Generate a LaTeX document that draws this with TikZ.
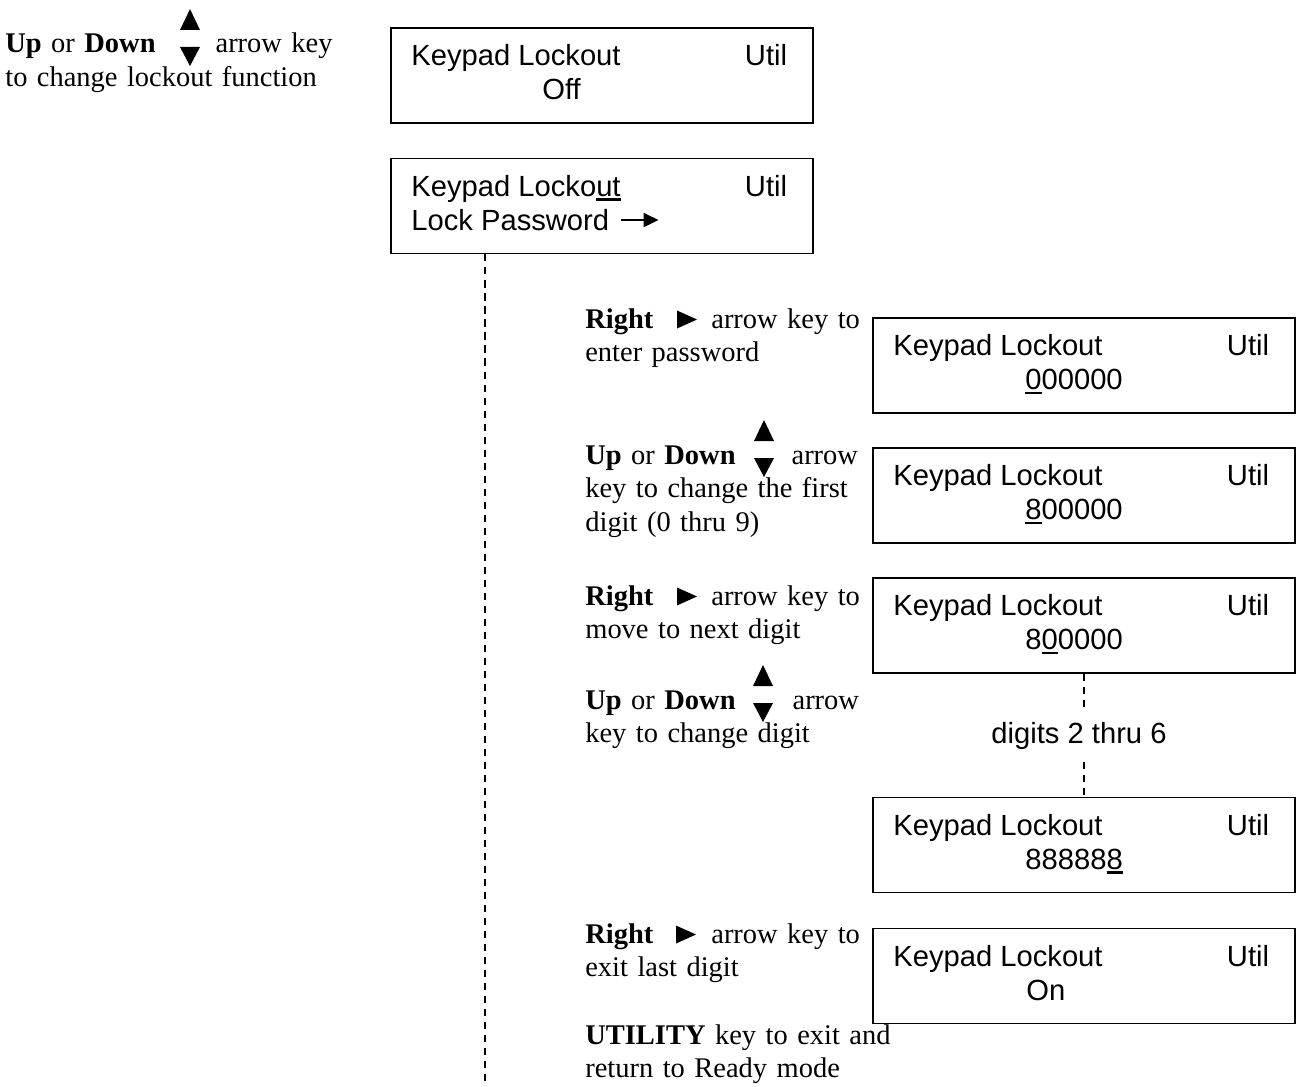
\documentclass[tikz,border=0pt]{standalone}
\usepackage{fontspec}
\setmainfont{Liberation Serif}
\newfontfamily\lcdfont{Liberation Sans}
\usetikzlibrary{arrows.meta,positioning,calc}
\tikzstyle{lcd}=[rectangle, draw=black, line width=1.1pt, minimum width=8.44cm, minimum height=1.9cm, inner sep=0pt]
\tikzstyle{lcdtxt}=[inner sep=0pt, font=\lcdfont\fontsize{16.6}{19.1}\selectfont]
\tikzstyle{note}=[inner sep=0pt, anchor=base west, text width=7cm, align=left, font=\fontsize{16.2}{19.1}\selectfont]
\tikzstyle{flow}=[dash pattern=on 4pt off 3.4pt, line width=0.8pt]
\tikzstyle{pointer}=[line width=1.2pt, -{Triangle[length=0.3cm,width=0.28cm]}]
\newsavebox\cursorbox
\newcommand{\cursor}[1]{\sbox\cursorbox{#1}\rlap{\rule[-2.8pt]{\wd\cursorbox}{1.5pt}}\usebox\cursorbox}
\newcommand{\keyupdown}[2]{%
  \fill (#1-0.2,#2+0.46) -- (#1+0.2,#2+0.46) -- (#1,#2+0.88) -- cycle;
  \fill (#1-0.2,#2+0.12) -- (#1+0.2,#2+0.12) -- (#1,#2-0.26) -- cycle;}
\newcommand{\keyright}[2]{%
  \fill (#1,#2-0.01) -- (#1,#2+0.35) -- (#1+0.40,#2+0.17) -- cycle;}

\begin{document}
\begin{tikzpicture}
\useasboundingbox (0,0) rectangle (25.98,-21.74);

% display screens
\foreach \n/\x/\y/\a/\s/\o in {
  off/12.04/-1.51/{Keypad Lockout}/{Off}/3.04,
  lockpw/12.04/-4.12/{Keypad Locko\cursor{ut}}/{Lock Password}/0.42,
  pw0/21.68/-7.31/{Keypad Lockout}/{\cursor{0}00000}/3.06,
  pw1/21.68/-9.91/{Keypad Lockout}/{\cursor{8}00000}/3.06,
  pw2/21.68/-12.51/{Keypad Lockout}/{8\cursor{0}0000}/3.06,
  pw6/21.68/-16.90/{Keypad Lockout}/{88888\cursor{8}}/3.06,
  on/21.68/-19.52/{Keypad Lockout}/{On}/3.08} {
  \node[lcd] (\n) at (\x,\y) {};
  \node[lcdtxt,anchor=base west] (\n-a) at ($(\n.north west)+(0.42,-0.77)$) {\a};
  \node[lcdtxt,anchor=base east] (\n-b) at ($(\n.north east)+(-0.53,-0.77)$) {Util};
  \node[lcdtxt,anchor=base west] (\n-c) at ($(\n.north west)+(\o,-1.45)$) {\s};
}
\coordinate (pwarrow) at ($(lockpw-c.base east)+(0.22,0.2)$);
\coordinate (pwtip) at ($(pwarrow)+(0.76,0)$);
\draw[pointer] (pwarrow) -- (pwtip);

% key instructions
\node[note] (udfun) at (0.10,-1.06) {\textbf{Up} or \textbf{Down}\hspace{1.2cm}arrow key\\to change lockout function};
\node[note] (rtenter) at (11.70,-6.56) {\textbf{Right}\hspace{1.16cm}arrow key to\\enter password};
\node[note] (udfirst) at (11.70,-9.28) {\textbf{Up} or \textbf{Down}\hspace{1.12cm}arrow\\key to change the first\\digit (0 thru 9)};
\node[note] (rtnext) at (11.70,-12.10) {\textbf{Right}\hspace{1.16cm}arrow key to\\move to next digit};
\node[note] (uddigit) at (11.70,-14.18) {\textbf{Up} or \textbf{Down}\hspace{1.14cm}arrow\\key to change digit};
\node[note] (rtexit) at (11.70,-18.86) {\textbf{Right}\hspace{1.16cm}arrow key to\\exit last digit};
\node[note] (utilexit) at (11.70,-20.88) {\textbf{UTILITY} key to exit and\\return to Ready mode};

% arrow keys
\keyupdown{3.80}{-1.06}
\keyright{13.54}{-6.56}
\keyupdown{15.28}{-9.28}
\keyright{13.54}{-12.10}
\keyupdown{15.26}{-14.18}
\keyright{13.52}{-18.86}

% dashed flow
\coordinate (drop) at ($(lockpw.south west)+(1.9,0)$);
\coordinate (dropend) at ($(drop)+(0,-16.7)$);
\draw[flow] (drop) -- (dropend);
\node[lcdtxt,inner ysep=0.25cm,anchor=base] (more) at (21.58,-14.86) {digits 2 thru 6};
\draw[flow] (pw2.south) -- (pw2.south |- more.north);
\draw[flow] (pw6.north |- more.south) -- (pw6.north);
\end{tikzpicture}
\end{document}
